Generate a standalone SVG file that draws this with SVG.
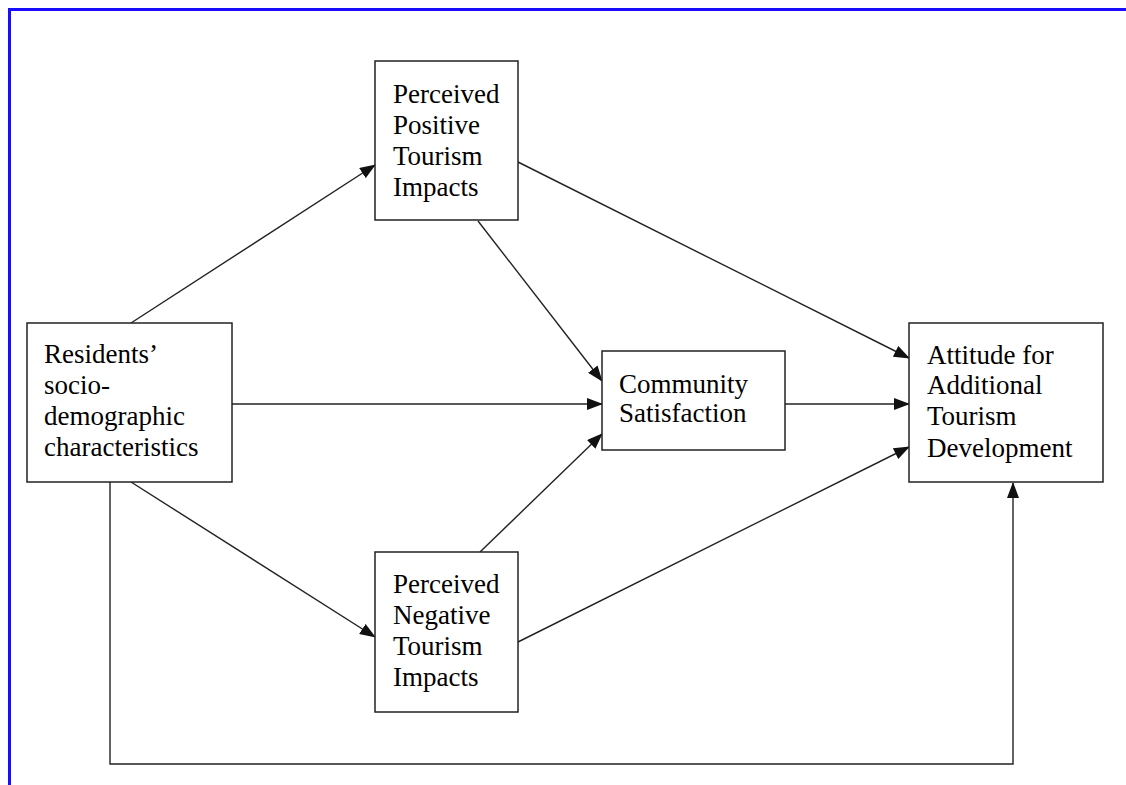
<svg xmlns="http://www.w3.org/2000/svg" width="1126" height="785" viewBox="0 0 1126 785">
<defs>
<marker id="arr" markerWidth="16" markerHeight="12" refX="15" refY="6" orient="auto" markerUnits="userSpaceOnUse">
<path d="M0,0 L16,6 L0,12 Z" fill="#111"/>
</marker>
<style>
.box{fill:#fff;stroke:#222;stroke-width:1.5}
.t{font-family:"Liberation Serif","Times New Roman",serif;font-size:27px;fill:#000}
.c{fill:none;stroke:#222;stroke-width:1.4}
.frame{fill:none;stroke:#1a0dff;stroke-width:3}
</style>
</defs>
<rect width="1126" height="785" fill="#fff"/>
<path class="frame" d="M9.5,800 L9.5,9.5 L1140,9.5"/>
<g id="connectors">
<line class="c" x1="131" y1="323" x2="375" y2="165" marker-end="url(#arr)"/>
<line class="c" x1="131" y1="482" x2="375" y2="637" marker-end="url(#arr)"/>
<line class="c" x1="232" y1="404" x2="602" y2="404" marker-end="url(#arr)"/>
<line class="c" x1="478" y1="221" x2="602" y2="381" marker-end="url(#arr)"/>
<line class="c" x1="480" y1="552" x2="602" y2="434" marker-end="url(#arr)"/>
<line class="c" x1="518" y1="162" x2="909" y2="358" marker-end="url(#arr)"/>
<line class="c" x1="785" y1="404" x2="909" y2="404" marker-end="url(#arr)"/>
<line class="c" x1="518" y1="642" x2="909" y2="447" marker-end="url(#arr)"/>
<polyline class="c" points="110,482 110,764 1013,764 1013,483" marker-end="url(#arr)"/>
</g>
<g id="residents">
<rect class="box" x="27" y="323" width="205" height="159"/>
<text class="t" x="44" y="363">Residents’</text>
<text class="t" x="44" y="394">socio-</text>
<text class="t" x="44" y="425">demographic</text>
<text class="t" x="44" y="456">characteristics</text>
</g>
<g id="positive">
<rect class="box" x="375" y="61" width="143" height="159"/>
<text class="t" x="393" y="103">Perceived</text>
<text class="t" x="393" y="134">Positive</text>
<text class="t" x="393" y="165">Tourism</text>
<text class="t" x="393" y="196">Impacts</text>
</g>
<g id="negative">
<rect class="box" x="375" y="552" width="143" height="160"/>
<text class="t" x="393" y="593">Perceived</text>
<text class="t" x="393" y="624">Negative</text>
<text class="t" x="393" y="655">Tourism</text>
<text class="t" x="393" y="686">Impacts</text>
</g>
<g id="community">
<rect class="box" x="602" y="351" width="183" height="99"/>
<text class="t" x="619" y="393">Community</text>
<text class="t" x="619" y="422">Satisfaction</text>
</g>
<g id="attitude">
<rect class="box" x="909" y="323" width="194" height="159"/>
<text class="t" x="927" y="364">Attitude for</text>
<text class="t" x="927" y="394">Additional</text>
<text class="t" x="927" y="425">Tourism</text>
<text class="t" x="927" y="457">Development</text>
</g>
</svg>
